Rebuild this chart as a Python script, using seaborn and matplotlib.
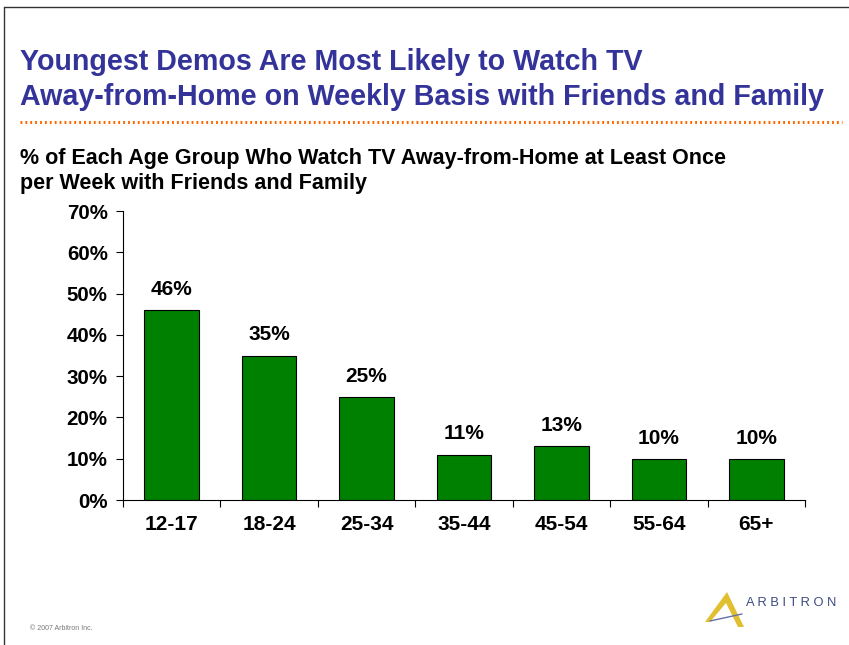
import numpy as np
import pandas as pd
import matplotlib
matplotlib.use("Agg")
import matplotlib.pyplot as plt
from matplotlib.patches import Polygon
from matplotlib.lines import Line2D
import seaborn as sns

# data
age_groups = ["12-17", "18-24", "25-34", "35-44", "45-54", "55-64", "65+"]
pct_weekly = [46, 35, 25, 11, 13, 10, 10]
y_ticks = [0, 10, 20, 30, 40, 50, 60, 70]

title_text = "Youngest Demos Are Most Likely to Watch TV\nAway-from-Home on Weekly Basis with Friends and Family"
subtitle_text = "% of Each Age Group Who Watch TV Away-from-Home at Least Once\nper Week with Friends and Family"

sns.set_style("white")
plt.rcParams["font.family"] = ["Liberation Sans", "DejaVu Sans"]
plt.rcParams["text.color"] = "black"
plt.rcParams["xtick.color"] = "black"
plt.rcParams["ytick.color"] = "black"

W, H = 849, 645
fig = plt.figure(figsize=(W / 100, H / 100), dpi=100)

# axes placed in pixel coords: x 123..805, y 211..500
ax = fig.add_axes([123 / W, 1 - 500 / H, (805 - 123) / W, (500 - 211) / H])

df = pd.DataFrame({"age": age_groups, "pct": pct_weekly})
sns.barplot(data=df, x="age", y="pct", color="#008000", saturation=1,
            width=0.56, edgecolor="black", linewidth=0.8, ax=ax)

ax.set_ylim(0, 70)
ax.set_xlim(-0.5, len(age_groups) - 0.5)
ax.set_yticks(y_ticks)
ax.set_yticklabels([f"{t}%" for t in y_ticks], fontsize=14.8, fontweight="bold")
ax.set_xticks(range(len(age_groups)))
ax.set_xticklabels(age_groups, fontsize=15, fontweight="bold")
ax.tick_params(axis="x", length=0, pad=11)
ax.tick_params(axis="y", length=5, width=0.8, direction="out", pad=6, left=True)
# separators between categories on x axis
ax.set_xticks(np.arange(-0.5, len(age_groups)), minor=True)
ax.tick_params(axis="x", which="minor", length=5, width=0.8, direction="out", bottom=True)
ax.set_xlabel("")
ax.set_ylabel("")
for side in ["top", "right"]:
    ax.spines[side].set_visible(False)
for side in ["left", "bottom"]:
    ax.spines[side].set_color("black")
    ax.spines[side].set_linewidth(0.8)

for i, v in enumerate(pct_weekly):
    ax.annotate(f"{v}%", (i, v), xytext=(0, 8), textcoords="offset points",
                ha="center", va="bottom", fontsize=15, fontweight="bold")

# slide frame
fig.add_artist(Line2D([4 / W, 1], [1 - 7 / H, 1 - 7 / H], color="#333333", lw=1))
fig.add_artist(Line2D([4 / W, 4 / W], [0, 1 - 7 / H], color="#333333", lw=1))

# title
fig.text(20 / W, 1 - 48 / H, title_text, fontsize=20.6, fontweight="bold",
         color="#333399", va="top", ha="left", linespacing=1.32)
fig.add_artist(Line2D([20 / W, 842 / W], [1 - 122 / H, 1 - 122 / H],
                      color="#FF6600", lw=2.2, ls=(0, (0.6, 1.0))))

fig.text(20 / W, 1 - 148 / H, subtitle_text, fontsize=15.5, fontweight="bold",
         color="black", va="top", ha="left", linespacing=1.25)

fig.text(30 / W, 1 - 628 / H, "\u00a9 2007 Arbitron Inc.", fontsize=5,
         color="#777777", va="center", ha="left")

# logo
tri = Polygon([[(705) / W, 1 - 622 / H], [(727) / W, 1 - 592 / H],
               [(744) / W, 1 - 627 / H], [(738) / W, 1 - 627 / H],
               [(726) / W, 1 - 603 / H], [(710) / W, 1 - 622 / H]],
              closed=True, transform=fig.transFigure, facecolor="#E0C030",
              edgecolor="none")
fig.add_artist(tri)
fig.add_artist(Line2D([710 / W, 742 / W], [1 - 621 / H, 1 - 614 / H],
                      color="#6670A8", lw=1))
fig.text(746 / W, 1 - 603 / H, "A R B I T R O N", fontsize=9.3, color="#3A4A80",
         va="center", ha="left")

fig.savefig("out.png", dpi=100)
